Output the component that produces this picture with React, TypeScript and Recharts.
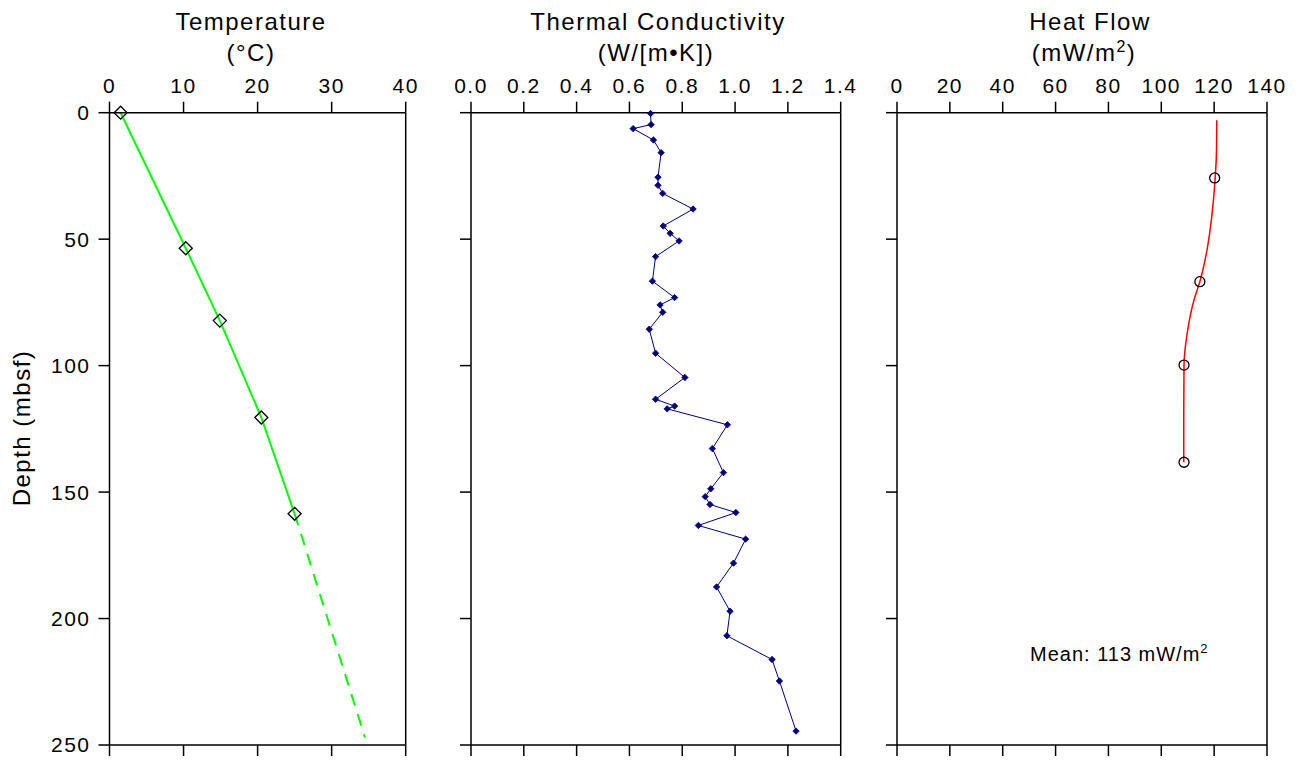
import React from 'react';
import { LineChart, Line, XAxis, YAxis, ReferenceLine } from 'recharts';

// ---------- data ----------
const depthTicks = [0, 50, 100, 150, 200, 250];
const tempTicks = [0, 10, 20, 30, 40];
const condTicks = [0, 0.2, 0.4, 0.6, 0.8, 1.0, 1.2, 1.4];
const hfTicks = [0, 20, 40, 60, 80, 100, 120, 140];

const tempDepth = [0, 53.6, 82.2, 120.5, 158.6];
const tempValue = [1.5, 10.3, 14.9, 20.5, 25.0];
const tempExtDepth = [158.6, 247];
const tempExtValue = [25.0, 34.5];

const condDepth = [0.3, 4.7, 6.3, 10.8, 15.8, 25.5, 28.7, 31.9, 38.1, 44.8, 47.7, 50.7, 56.9, 66.6, 73.1, 76.0, 78.9, 85.6, 95.1, 104.7, 113.3, 116.0, 117.1, 123.4, 132.8, 142.3, 148.7, 151.8, 154.9, 158.1, 163.2, 168.6, 178.1, 187.5, 197.1, 206.8, 216.2, 224.7, 244.5];
const condValue = [0.68, 0.682, 0.614, 0.691, 0.72, 0.708, 0.708, 0.726, 0.841, 0.728, 0.754, 0.788, 0.699, 0.687, 0.771, 0.716, 0.726, 0.675, 0.699, 0.81, 0.699, 0.771, 0.743, 0.971, 0.914, 0.956, 0.908, 0.887, 0.905, 1.003, 0.861, 1.04, 0.994, 0.93, 0.981, 0.969, 1.14, 1.168, 1.231];

const hfDepth = [25.8, 66.8, 99.8, 138.2];
const hfValue = [120.2, 114.6, 108.6, 108.6];
const hfCurveDepth = [3, 14.6, 25.8, 41.1, 54.3, 66.8, 74, 87.2, 99.8, 120, 138.2];
const hfCurveValue = [121.0, 120.9, 120.4, 119.1, 117.3, 114.6, 112.4, 109.8, 108.6, 108.5, 108.5];

const toRows = (d: number[], v: number[]) => d.map((depth, i) => ({ depth, value: v[i] }));

// ---------- layout ----------
const W = 1306;
const H = 763;
const PLOT_TOP = 112.7;
const PLOT_BOTTOM = 745;
const TOP_AXIS_H = 30;
const BOTTOM_AXIS_H = 15;
const LEFT_AXIS_W = 60;
const TICK_LEN = 10;
const DEPTH_MAX = 250;
const TICK_LEN_DEPTH = (TICK_LEN + 1) * DEPTH_MAX / (PLOT_BOTTOM - PLOT_TOP); // tick length in depth units
const FONT = '"Liberation Sans", Arial, Helvetica, sans-serif';
const LINE_W = 1.5;

const OpenDiamond = (p: any) => {
  const { cx, cy, index } = p;
  if (cx == null || cy == null) return <g key={index} />;
  const r = 6.5;
  return <path key={index} d={`M${cx},${cy - r}L${cx + r},${cy}L${cx},${cy + r}L${cx - r},${cy}Z`} fill="none" stroke="#000" strokeWidth={1.3} />;
};
const SmallDiamond = (p: any) => {
  const { cx, cy, index } = p;
  if (cx == null || cy == null) return <g key={index} />;
  const r = 3.2;
  return <path key={index} d={`M${cx},${cy - r}L${cx + r},${cy}L${cx},${cy + r}L${cx - r},${cy}Z`} fill="#000080" stroke="#000080" strokeWidth={0.8} />;
};
const OpenCircle = (p: any) => {
  const { cx, cy, index } = p;
  if (cx == null || cy == null) return <g key={index} />;
  return <circle key={index} cx={cx} cy={cy} r={5} fill="none" stroke="#000" strokeWidth={1.3} />;
};

const makeTopTick = (fmt?: (v: number) => string) => (p: any) => {
  const x = Number(p.x);
  const v = p.payload.value;
  return (
    <text x={x} y={PLOT_TOP - 20} textAnchor="middle" fill="#000" fontSize={21} letterSpacing={1.5}>{fmt ? fmt(v) : String(v)}</text>
  );
};
const makeLeftTick = (showLabel: boolean) => (p: any) => {
  const x = Number(p.x);
  const y = Number(p.y);
  return (
    <g>
      <line x1={x + 8} x2={x + 8 + TICK_LEN + 1} y1={y} y2={y} stroke="#000" strokeWidth={LINE_W} />
      {showLabel ? (
        <text x={x} y={y} dy="0.355em" textAnchor="end" fill="#000" fontSize={21} letterSpacing={1.5}>{String(p.payload.value)}</text>
      ) : null}
    </g>
  );
};

function Panel(props: any) {
  const { left, right, domain, ticks, fmt, showDepthLabels, children } = props;
  return (
    <div style={{ position: 'absolute', left: 0, top: 0 }}>
      <LineChart
        width={W}
        height={H}
        layout="vertical"
        margin={{ top: PLOT_TOP - TOP_AXIS_H, bottom: H - PLOT_BOTTOM - BOTTOM_AXIS_H, left: left - LEFT_AXIS_W, right: W - right }}
      >
        <XAxis xAxisId="t" orientation="top" type="number" domain={domain} ticks={ticks} interval={0} height={TOP_AXIS_H}
          tickSize={TICK_LEN} tickMargin={10} tick={makeTopTick(fmt)} tickLine={false} axisLine={{ stroke: '#000', strokeWidth: LINE_W }} />
        <XAxis xAxisId="b" orientation="bottom" type="number" domain={domain} ticks={ticks} interval={0} height={BOTTOM_AXIS_H}
          tick={false} tickLine={false} axisLine={{ stroke: '#000', strokeWidth: LINE_W }} />
        <YAxis yAxisId="l" type="number" dataKey="depth" domain={[0, DEPTH_MAX]} ticks={depthTicks} interval={0} width={LEFT_AXIS_W}
          tickSize={TICK_LEN + 1} tickMargin={8} tick={makeLeftTick(!!showDepthLabels)} tickLine={false} axisLine={{ stroke: '#000', strokeWidth: LINE_W }} />
        <ReferenceLine xAxisId="t" yAxisId="l" x={domain[1]} stroke="#000" strokeWidth={LINE_W} />
        {ticks.map((v: number) => (
          <ReferenceLine key={`tt${v}`} xAxisId="t" yAxisId="l" ifOverflow="visible" stroke="#000" strokeWidth={LINE_W}
            segment={[{ x: v, y: -TICK_LEN_DEPTH }, { x: v, y: 0 }]} />
        ))}
        {ticks.map((v: number) => (
          <ReferenceLine key={`tb${v}`} xAxisId="t" yAxisId="l" ifOverflow="visible" stroke="#000" strokeWidth={LINE_W}
            segment={[{ x: v, y: DEPTH_MAX }, { x: v, y: DEPTH_MAX + TICK_LEN_DEPTH }]} />
        ))}
        {children}
      </LineChart>
    </div>
  );
}

export default function App() {
  return (
    <div style={{ position: 'absolute', left: 0, top: 0, width: W, height: H, fontFamily: FONT, background: '#fff' }}>
      <Panel left={109.5} right={405.7} domain={[0, 40]} ticks={tempTicks} showDepthLabels>
        <Line xAxisId="t" yAxisId="l" data={toRows(tempExtDepth, tempExtValue)} dataKey="value" stroke="#00ff00" strokeWidth={2}
          strokeDasharray="12 9" dot={false} activeDot={false} isAnimationActive={false} />
        <Line xAxisId="t" yAxisId="l" data={toRows(tempDepth, tempValue)} dataKey="value" stroke="#00ff00" strokeWidth={2}
          dot={OpenDiamond} activeDot={false} isAnimationActive={false} />
      </Panel>
      <Panel left={471} right={840.7} domain={[0, 1.4]} ticks={condTicks} fmt={(v: number) => v.toFixed(1)}>
        <Line xAxisId="t" yAxisId="l" data={toRows(condDepth, condValue)} dataKey="value" stroke="#000080" strokeWidth={1}
          dot={SmallDiamond} activeDot={false} isAnimationActive={false} />
      </Panel>
      <Panel left={897} right={1267} domain={[0, 140]} ticks={hfTicks}>
        <Line xAxisId="t" yAxisId="l" type="monotone" data={toRows(hfCurveDepth, hfCurveValue)} dataKey="value" stroke="#ff0000" strokeWidth={1.5}
          dot={false} activeDot={false} isAnimationActive={false} />
        <Line xAxisId="t" yAxisId="l" data={toRows(hfDepth, hfValue)} dataKey="value" stroke="none" strokeWidth={0}
          dot={OpenCircle} activeDot={false} isAnimationActive={false} />
      </Panel>
      <svg width={W} height={H} style={{ position: 'absolute', left: 0, top: 0, pointerEvents: 'none' }} fontFamily={FONT}>
        <g fill="#000" fontSize={24} letterSpacing={1.5} textAnchor="middle">
          <text x={251} y={30}>Temperature</text>
          <text x={251} y={61}>(°C)</text>
          <text x={658} y={30}>Thermal Conductivity</text>
          <text x={656} y={61}>(W/[m•K])</text>
          <text x={1090} y={30}>Heat Flow</text>
          <text x={1084} y={61}>(mW/m<tspan fontSize={16} dy={-9}>2</tspan><tspan dy={9}>)</tspan></text>
          <text x={30} y={428} transform="rotate(-90 30 428)">Depth (mbsf)</text>
        </g>
        <text x={1030} y={661} fontSize={20} letterSpacing={1} fill="#000">Mean: 113 mW/m<tspan fontSize={13} dy={-8}>2</tspan></text>
      </svg>
    </div>
  );
}
